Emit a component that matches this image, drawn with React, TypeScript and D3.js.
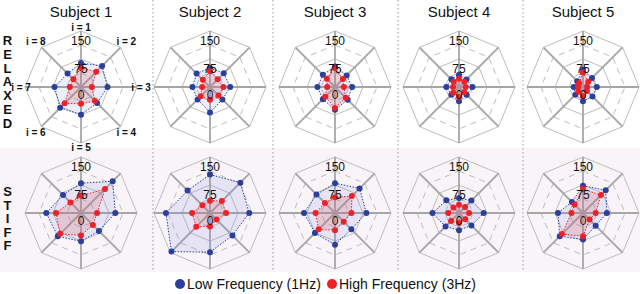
import React from 'react';
import { scaleLinear, lineRadial, curveLinearClosed, range } from 'd3';

const subjects = ['Subject 1', 'Subject 2', 'Subject 3', 'Subject 4', 'Subject 5'];
const axisLabels = ['i = 1', 'i = 2', 'i = 3', 'i = 4', 'i = 5', 'i = 6', 'i = 7', 'i = 8'];
const ringValues = [37.5, 75, 112.5, 150];
const tickValues = [0, 75, 150];

// low frequency (1Hz), relaxed, per subject, i = 1..8
const lowRelaxed = [
  [64, 80, 71, 61, 74, 79, 71, 51],
  [51, 52, 54, 47, 68, 47, 47, 51],
  [55, 44, 46, 48, 61, 46, 47, 46],
  [33, 28, 36, 29, 38, 29, 34, 29],
  [46, 34, 37, 36, 38, 29, 25, 22],
];
// high frequency (3Hz), relaxed
const highRelaxed = [
  [51, 58, 29, 53, 45, 62, 30, 29],
  [42, 29, 36, 32, 34, 35, 21, 27],
  [51, 30, 24, 41, 56, 37, 21, 31],
  [22, 20, 18, 20, 27, 22, 16, 20],
  [39, 20, 11, 15, 25, 18, 13, 15],
];
// low frequency (1Hz), stiff
const lowStiff = [
  [80, 120, 92, 68, 76, 88, 93, 68],
  [103, 115, 105, 85, 105, 146, 118, 85],
  [80, 93, 84, 62, 85, 76, 83, 70],
  [40, 47, 66, 47, 46, 51, 71, 48],
  [73, 86, 64, 48, 71, 88, 67, 42],
];
// high frequency (3Hz), stiff
const highStiff = [
  [46, 91, 43, 45, 60, 79, 67, 40],
  [33, 45, 43, 25, 36, 52, 48, 29],
  [42, 64, 44, 33, 46, 62, 52, 38],
  [22, 23, 27, 24, 27, 30, 29, 21],
  [64, 68, 34, 25, 62, 80, 31, 32],
];

const centersX = [81, 210, 335, 459, 583];
const rowY = [87, 213];
const separatorsX = [153, 273, 398, 523];

const BLUE = '#2b3f9c';
const RED = '#ee2028';
const FONT = '"Liberation Sans", Arial, sans-serif';

const r = scaleLinear().domain([0, 150]).range([0, 56]);
const angle = (i: number) => (i * Math.PI * 2) / 8;

const radar = lineRadial<number>()
  .angle((_, i) => angle(i))
  .radius((d) => r(d))
  .curve(curveLinearClosed);

const ringPath = (v: number) => radar(range(8).map(() => v)) ?? '';

const pt = (v: number, i: number) => [Math.sin(angle(i)) * r(v), -Math.cos(angle(i)) * r(v)];

const Panel = ({ cx, cy, low, high, showAxisLabels }: any) => (
  <g transform={`translate(${cx},${cy})`}>
    {ringValues.map((v, k) => (
      <path
        key={v}
        d={ringPath(v)}
        fill="none"
        stroke="#bdbdbd"
        strokeWidth={1}
        strokeDasharray={k % 2 === 0 ? '6,5' : undefined}
      />
    ))}
    {range(8).map((i) => {
      const [x, y] = pt(150, i);
      return <line key={i} x1={0} y1={0} x2={x} y2={y} stroke="#a6a6a6" strokeWidth={1.8} />;
    })}
    <path d={radar(low) ?? ''} fill="rgba(110,125,215,0.13)" stroke={BLUE} strokeWidth={1} strokeDasharray="1.5,1.5" />
    <path d={radar(high) ?? ''} fill="rgba(215,110,120,0.25)" stroke={RED} strokeWidth={1} strokeDasharray="1.5,1.5" />
    {low.map((v: number, i: number) => {
      const [x, y] = pt(v, i);
      return <circle key={'l' + i} cx={x} cy={y} r={3} fill={BLUE} />;
    })}
    {high.map((v: number, i: number) => {
      const [x, y] = pt(v, i);
      return <circle key={'h' + i} cx={x} cy={y} r={3} fill={RED} />;
    })}
    {tickValues.map((v) => (
      <text
        key={v}
        x={0}
        y={v === 0 ? 12 : -r(v) + 14}
        textAnchor="middle"
        fontSize={12}
        fontFamily={FONT}
        fill="#111"
      >
        {v}
      </text>
    ))}
    {showAxisLabels &&
      axisLabels.map((t, i) => {
        const rad = i % 2 === 0 ? 60 : 64;
        return (
          <text
            key={t}
            x={Math.sin(angle(i)) * rad}
            y={-Math.cos(angle(i)) * rad}
            textAnchor="middle"
            dominantBaseline="central"
            fontSize={10}
            fontWeight="bold"
            fontFamily={FONT}
            fill="#111"
          >
            {t}
          </text>
        );
      })}
  </g>
);

const App = () => {
  const relaxed = 'RELAXED'.split('');
  const stiff = 'STIFF'.split('');
  return (
    <svg width={640} height={294} style={{ position: 'absolute', left: 0, top: 0 }} fontFamily={FONT}>
      <rect width={640} height={294} fill="#fff" />
      <rect x={0} y={148} width={640} height={124} fill="#f8f4f8" />
      {separatorsX.map((x) => (
        <line key={x} x1={x} y1={0} x2={x} y2={272} stroke="#9a9a9a" strokeWidth={1} strokeDasharray="1.5,2.5" />
      ))}
      {subjects.map((s, j) => (
        <text key={s} x={centersX[j]} y={17} textAnchor="middle" fontSize={15} fill="#111">
          {s}
        </text>
      ))}
      {relaxed.map((c, k) => (
        <text key={'r' + k} x={7.5} y={45 + k * 13.8} textAnchor="middle" fontSize={13} fontWeight="bold" fill="#111">
          {c}
        </text>
      ))}
      {stiff.map((c, k) => (
        <text key={'s' + k} x={7.5} y={196 + k * 13.6} textAnchor="middle" fontSize={13} fontWeight="bold" fill="#111">
          {c}
        </text>
      ))}
      {subjects.map((s, j) => (
        <Panel key={'a' + s} cx={centersX[j]} cy={rowY[0]} low={lowRelaxed[j]} high={highRelaxed[j]} showAxisLabels={j === 0} />
      ))}
      {subjects.map((s, j) => (
        <Panel key={'b' + s} cx={centersX[j]} cy={rowY[1]} low={lowStiff[j]} high={highStiff[j]} showAxisLabels={false} />
      ))}
      <circle cx={180} cy={284} r={5} fill={BLUE} />
      <text x={187} y={289} fontSize={14} fill="#111">Low Frequency (1Hz)</text>
      <circle cx={332} cy={284} r={5} fill={RED} />
      <text x={339} y={289} fontSize={14} fill="#111">High Frequency (3Hz)</text>
    </svg>
  );
};

export default App;
